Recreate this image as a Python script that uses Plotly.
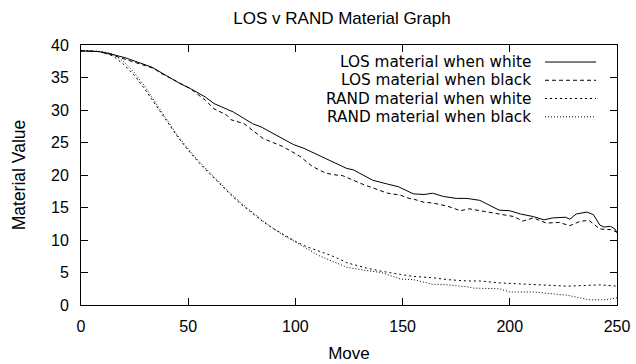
import plotly.graph_objects as go

# ---- data ----
los_white_x = [0, 5, 8, 13, 21, 33, 46, 51, 58, 62, 68, 71, 76, 80, 84, 91, 99, 104, 108, 113, 121, 124, 127, 136, 143, 148, 155, 160, 164, 169, 175, 180, 186, 195, 200, 205, 211, 216, 220, 226, 228, 231, 236, 239, 242, 244, 247, 249, 250]
los_white_y = [39.1, 39.1, 39.0, 38.7, 38.0, 36.6, 34.1, 33.3, 32.0, 31.0, 30.1, 29.7, 28.7, 27.9, 27.4, 26.2, 24.7, 24.1, 23.5, 22.7, 21.5, 21.0, 20.8, 19.2, 18.6, 18.2, 17.1, 17.0, 17.2, 16.7, 16.4, 16.4, 16.1, 14.6, 14.5, 14.0, 13.6, 13.1, 13.4, 13.5, 13.2, 14.0, 14.3, 13.9, 12.3, 12.0, 12.1, 11.7, 11.1]

los_black_x = [0, 5, 8, 13, 21, 34, 37, 46, 51, 58, 62, 68, 70, 76, 85, 94, 102, 108, 114, 119, 122, 132, 143, 149, 153, 155, 160, 164, 171, 177, 181, 188, 195, 202, 206, 211, 217, 223, 228, 233, 237, 242, 247, 250]
los_black_y = [39.1, 39.1, 39.0, 38.6, 37.8, 36.4, 35.7, 34.1, 33.3, 31.5, 30.2, 29.2, 28.5, 27.9, 25.6, 24.4, 22.9, 21.3, 20.3, 20.0, 19.9, 18.5, 17.2, 16.9, 16.4, 16.3, 15.8, 15.7, 15.2, 14.5, 14.8, 14.4, 14.0, 13.6, 12.9, 13.4, 12.6, 12.7, 12.2, 12.9, 13.0, 11.7, 11.6, 11.2]

rand_white_x = [0, 5, 10, 15, 20, 25, 30, 35, 40, 45, 50, 55, 60, 65, 70, 75, 80, 85, 90, 95, 100, 105, 111, 116, 121, 124, 133, 140, 149, 155, 164, 171, 180, 186, 195, 211, 227, 242, 250]
rand_white_y = [39.1, 39.1, 38.9, 38.3, 37.0, 35.3, 33.1, 30.7, 28.2, 25.9, 23.8, 21.9, 20.2, 18.5, 16.9, 15.4, 14.1, 12.8, 11.7, 10.7, 9.8, 9.0, 8.3, 7.7, 7.0, 6.5, 5.7, 5.2, 4.7, 4.4, 4.2, 3.9, 3.7, 3.7, 3.4, 3.2, 2.9, 3.1, 2.9]

rand_black_x = [0, 5, 10, 15, 20, 25, 30, 35, 40, 45, 50, 55, 60, 65, 70, 75, 80, 85, 90, 95, 100, 105, 111, 116, 121, 124, 133, 140, 149, 155, 164, 171, 180, 183, 195, 200, 211, 227, 237, 245, 250]
rand_black_y = [39.1, 39.1, 39.0, 38.6, 37.4, 35.7, 33.5, 31.0, 28.5, 26.1, 24.0, 22.1, 20.4, 18.7, 17.1, 15.6, 14.2, 12.9, 11.7, 10.6, 9.7, 8.8, 7.6, 6.9, 6.2, 5.8, 5.3, 5.0, 4.0, 3.9, 3.2, 3.1, 2.8, 2.6, 2.5, 2.0, 2.0, 1.5, 0.8, 0.8, 1.1]

series_names = ["LOS material when white", "LOS material when black",
                "RAND material when white", "RAND material when black"]
series_dash = ["solid", "4px,3px", "2px,3px", "1px,2px"]
series_x = [los_white_x, los_black_x, rand_white_x, rand_black_x]
series_y = [los_white_y, los_black_y, rand_white_y, rand_black_y]

x_ticks = [0, 50, 100, 150, 200, 250]
y_ticks = [0, 5, 10, 15, 20, 25, 30, 35, 40]

FONT = "Liberation Sans, Arial, sans-serif"
LEG_FONT = "DejaVu Sans, Liberation Sans, sans-serif"

fig = go.Figure()
for xs, ys, name, dash in zip(series_x, series_y, series_names, series_dash):
    fig.add_trace(go.Scatter(x=xs, y=ys, mode="lines", name=name,
                             line=dict(color="black", width=1, dash=dash),
                             showlegend=False))

# manual legend (text left of sample, like gnuplot)
W, H = 636, 364
L, R, T, B = 81, 19, 44.6, 58.5
pw, ph = W - L - R, H - T - B
row_y = [61.7, 80.0, 98.3, 116.7]
text_right = 532
s0, s1 = 545, 596
for name, dash, ry in zip(series_names, series_dash, row_y):
    yp = 1 - (ry - T) / ph
    fig.add_annotation(x=(text_right - L) / pw, y=yp, xref="paper", yref="paper",
                       text=name, showarrow=False, xanchor="right", yanchor="middle",
                       borderpad=0,
                       font=dict(family=LEG_FONT, size=15.3, color="black"))
    fig.add_shape(type="line", xref="paper", yref="paper",
                  x0=(s0 - L) / pw, x1=(s1 - L) / pw, y0=yp, y1=yp,
                  line=dict(color="black", width=1, dash=dash))

axis_common = dict(showline=True, linecolor="black", linewidth=1, mirror="allticks",
                   ticks="inside", ticklen=7, tickcolor="black", tickwidth=1,
                   showgrid=False, zeroline=False, automargin=False,
                   tickfont=dict(family=FONT, size=16, color="black"))

fig.update_xaxes(range=[0, 250], tickvals=x_ticks, ticklabelstandoff=7,
                 title=dict(text="Move", font=dict(family=FONT, size=17, color="black"), standoff=12),
                 **axis_common)
fig.update_yaxes(range=[0, 40], tickvals=y_ticks, ticklabelstandoff=8,
                 title=dict(text="Material Value", font=dict(family=FONT, size=17.5, color="black"), standoff=20),
                 **axis_common)

fig.update_layout(
    width=W, height=H,
    margin=dict(l=L, r=R, t=T, b=B),
    paper_bgcolor="white", plot_bgcolor="white",
    title=dict(text="LOS v RAND Material Graph", x=342 / W, xanchor="center", xref="container",
               y=1 - 18.5 / H, yanchor="middle", yref="container",
               font=dict(family=FONT, size=17, color="black")),
    font=dict(family=FONT, size=16, color="black"),
)

fig.write_html("out.html")
